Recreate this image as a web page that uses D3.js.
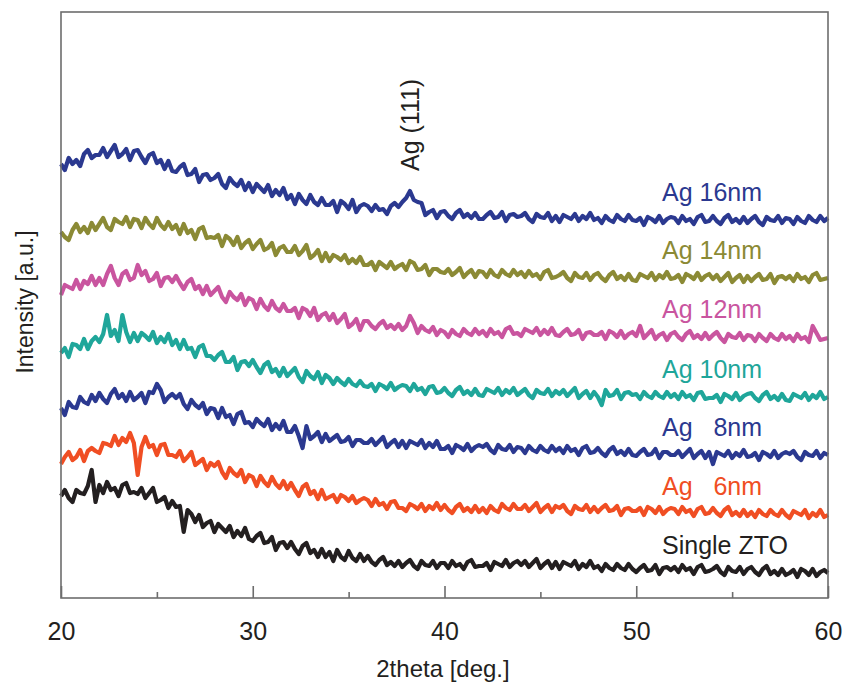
<!DOCTYPE html>
<html><head><meta charset="utf-8">
<script src="https://cdn.jsdelivr.net/npm/d3@7"></script>
<style>
body{margin:0;background:#fff;}
text{font-family:"Liberation Sans",Arial,sans-serif;}
</style></head>
<body><svg id="c" width="845" height="686"></svg>
<script>
// 2theta sampling grid (deg), 0.2 deg step
const twoTheta = d3.range(0, 201).map(i => 20 + i * 0.2);
const xTicks = [20, 30, 40, 50, 60];
const xMinorTicks = [25, 35, 45, 55];
const seriesNames = ["Ag 16nm", "Ag 14nm", "Ag 12nm", "Ag 10nm", "Ag   8nm", "Ag   6nm", "Single ZTO"];
const seriesColors = ["#2b3990", "#8b8a35", "#c9559f", "#1fa69a", "#2b3990", "#f04e23", "#231f20"];

// offset intensities [a.u.] (one row = 2 deg)
const ag16 = [
434,428,440,434,438,432,444,448,440,443,
443,450,441,447,453,441,444,449,438,447,
448,441,435,443,445,435,438,429,437,427,
426,431,434,423,424,429,416,423,424,418,
420,424,414,410,420,415,412,418,408,415,
406,414,410,406,413,402,408,403,410,399,
403,394,404,398,394,403,396,393,400,393,
393,397,386,397,394,389,398,386,392,394,
392,387,393,388,389,384,392,395,391,396,
400,407,398,396,395,383,386,388,380,386,
387,382,379,385,388,381,384,380,385,379,
379,383,386,380,381,386,377,383,384,381,
382,385,379,376,384,381,380,385,377,382,
376,383,381,379,384,377,382,379,385,378,
380,375,382,378,376,383,379,377,383,378,
377,380,373,381,379,376,382,375,379,381,
380,375,382,377,379,374,381,383,376,377,
382,377,374,380,383,376,379,375,381,375,
379,382,376,373,381,378,377,382,375,380,
379,374,381,377,375,382,378,376,382,377,
380];
const ag14 = [
366,361,358,368,374,366,371,365,375,368,
374,380,371,368,379,376,374,381,371,379,
378,370,380,374,370,380,373,369,376,369,
373,364,374,365,368,359,369,371,360,361,
360,363,352,362,359,353,361,350,355,358,
349,354,358,348,350,355,343,350,352,346,
346,352,343,347,353,340,343,348,337,345,
337,343,341,338,343,335,339,335,341,333,
333,336,328,336,333,330,336,329,332,334,
328,337,335,328,329,333,323,329,329,326,
325,329,323,326,330,321,325,328,321,327,
326,321,328,323,321,328,324,322,328,323,
326,321,327,322,324,319,326,328,320,321,
323,326,320,317,325,321,320,325,318,323,
325,320,317,323,326,319,322,318,324,318,
317,324,322,320,325,318,323,320,326,319,
320,323,316,324,322,319,325,318,322,324,
319,323,317,321,325,316,320,323,316,322,
317,321,324,318,319,324,315,321,322,319,
322,317,324,319,321,316,323,325,318,319,
320];
const ag12 = [
303,313,311,309,318,309,317,314,322,313,
320,313,324,332,320,313,324,327,318,320,
333,323,327,317,319,325,312,320,321,316,
322,315,309,316,319,309,312,304,312,303,
307,311,301,296,306,301,298,304,293,300,
298,289,299,292,288,297,290,287,294,287,
287,290,280,290,288,282,290,278,283,285,
278,284,275,279,284,271,274,279,268,277,
277,272,269,274,277,270,273,269,274,268,
272,282,275,265,272,268,266,271,263,268,
266,261,268,264,262,269,265,263,269,264,
267,262,269,264,266,261,269,271,264,265,
262,269,267,265,270,263,268,264,270,263,
262,266,269,263,264,268,259,265,266,263,
263,266,259,267,265,261,267,260,264,266,
262,272,260,264,268,259,263,265,258,264,
266,261,258,264,267,260,263,259,265,259,
263,266,260,256,264,261,260,265,258,263,
262,257,264,260,257,264,260,258,264,259,
262,257,264,259,261,256,272,265,258,259,
260];
const ag10 = [
245,250,241,254,253,249,259,249,257,261,
256,264,283,262,268,257,283,266,256,265,
257,265,262,258,266,255,261,256,264,253,
258,249,258,249,250,241,251,253,242,242,
238,243,246,236,236,241,228,236,237,232,
238,231,225,233,236,226,229,222,230,222,
226,230,221,216,227,222,219,226,215,223,
220,214,220,216,213,219,214,212,217,212,
211,214,207,214,212,209,215,208,211,213,
212,207,214,208,210,204,211,212,205,206,
210,205,202,208,211,204,207,203,209,203,
202,209,207,205,210,203,208,205,210,203,
206,209,203,200,208,205,204,209,202,207,
204,208,202,206,210,200,204,207,200,206,
201,193,208,202,203,208,199,205,206,203,
204,199,206,202,200,206,202,200,206,201,
204,199,206,201,203,198,205,206,199,200,
200,203,196,204,202,199,205,198,202,204,
205,200,197,203,206,199,202,198,204,198,
197,204,202,200,205,198,203,200,206,199,
201];
const ag8 = [
190,183,196,191,190,201,196,194,203,197,
205,199,195,204,209,200,204,197,206,198,
201,205,195,206,205,214,208,196,201,204,
200,204,194,189,198,193,190,195,184,190,
189,180,190,181,183,174,184,186,175,176,
171,179,175,172,179,168,174,169,177,166,
166,172,162,150,172,159,162,166,156,164,
157,160,163,156,157,161,152,158,158,155,
155,159,153,157,161,151,155,158,151,157,
150,157,155,153,158,150,155,151,157,149,
149,152,145,153,151,148,154,147,151,153,
151,154,148,145,153,149,148,153,146,151,
150,145,152,148,146,152,148,146,152,147,
150,145,152,147,149,143,150,152,145,146,
150,145,142,148,151,144,147,143,149,143,
142,146,149,143,144,149,140,146,146,143,
143,147,141,145,149,140,144,147,140,146,
134,146,144,142,147,140,145,142,148,141,
142,145,138,146,144,141,147,140,144,146,
144,147,141,138,146,143,142,147,140,145,
143];
const ag6 = [
134,141,146,138,141,148,137,147,150,147,
145,155,154,152,162,153,160,156,165,155,
123,151,161,151,153,143,153,154,143,143,
141,147,137,141,146,133,136,139,128,135,
132,136,126,120,130,125,122,128,116,123,
121,112,122,116,112,121,114,110,117,109,
115,108,102,111,114,104,107,99,108,99,
101,103,96,103,101,97,102,95,98,100,
98,92,99,93,95,89,96,97,90,90,
87,94,92,89,94,87,92,89,95,88,
93,88,85,91,94,87,90,86,92,86,
90,85,92,88,86,94,90,88,94,89,
89,93,87,91,95,86,90,93,86,92,
90,93,87,84,92,89,88,93,86,91,
86,90,93,87,88,92,83,89,90,87,
87,90,83,91,89,85,91,84,88,90,
89,84,91,86,88,82,89,91,84,85,
90,85,82,88,91,83,86,82,88,82,
86,81,88,84,82,88,84,82,88,83,
80,87,85,83,88,80,85,82,88,81,
83];
const zto = [
102,108,100,96,108,105,104,112,128,96,
113,105,116,108,110,102,113,115,105,106,
104,110,100,105,110,96,98,101,90,97,
91,92,66,88,84,76,83,71,75,77,
66,74,70,66,72,61,67,62,70,59,
57,62,65,55,56,61,48,55,56,50,
56,49,44,52,55,45,48,41,49,41,
46,37,48,41,38,47,40,37,44,37,
42,36,33,38,41,33,36,32,37,31,
35,38,32,29,37,33,32,37,30,35,
35,30,37,32,34,29,36,38,31,32,
32,35,28,36,34,32,38,31,35,37,
33,37,31,35,39,30,34,37,30,36,
29,36,34,32,37,29,34,31,37,30,
32,27,34,30,28,34,30,28,34,29,
26,30,33,27,28,33,24,30,31,28,
31,26,33,28,30,24,31,33,26,27,
29,32,26,23,31,27,26,31,24,29,
31,26,23,29,32,24,27,23,29,23,
25,28,21,29,27,23,29,22,26,28,
25];
const seriesValues = [ag16, ag14, ag12, ag10, ag8, ag6, zto];
const peakLabel = {text: "Ag (111)", x: 38.2, value: 407};

const svg = d3.select("#c");
const W = 845, H = 686;
const m = {left: 61, right: 17, top: 12, bottom: 88};
const x = d3.scaleLinear().domain([20, 60]).range([m.left, W - m.right]);
const y = d3.scaleLinear().domain([0, 586]).range([H - m.bottom, m.top]);
const frame = "#6d6d6d";

// series
const line = d3.line().x((d, i) => x(twoTheta[i])).y(d => y(d));
const g = svg.append("g");
seriesValues.forEach((vals, k) => {
  g.append("path").datum(vals).attr("d", line)
    .attr("fill", "none").attr("stroke", seriesColors[k])
    .attr("stroke-width", 4.2).attr("stroke-linejoin", "round").attr("stroke-linecap", "butt");
});

// frame
svg.append("rect").attr("x", x(20)).attr("y", y(586)).attr("width", x(60) - x(20)).attr("height", y(0) - y(586))
  .attr("fill", "none").attr("stroke", frame).attr("stroke-width", 1.6);

// bottom axis (inward ticks)
const ax = svg.append("g").attr("transform", `translate(0,${y(0)})`);
ax.call(d3.axisBottom(x).tickValues(xTicks).tickSize(-12).tickPadding(24).tickFormat(d3.format("d")));
ax.append("g").call(d3.axisBottom(x).tickValues(xMinorTicks).tickSize(-6).tickFormat(""));
ax.selectAll(".domain").remove();
ax.selectAll("line").attr("stroke", frame).attr("stroke-width", 1.6);
ax.selectAll("text").attr("font-size", 25).attr("fill", "#231f20").attr("font-family", "Liberation Sans, Arial, sans-serif");

// axis titles
svg.append("text").attr("x", 443).attr("y", 677).attr("text-anchor", "middle")
  .attr("font-size", 24).attr("fill", "#231f20").text("2theta [deg.]");
svg.append("text").attr("transform", "translate(33,302) rotate(-90)").attr("text-anchor", "middle")
  .attr("font-size", 23).attr("fill", "#231f20").text("Intensity [a.u.]");

// series labels
seriesValues.forEach((vals, k) => {
  const endV = d3.mean(vals.slice(-12));
  svg.append("text").attr("x", 662).attr("y", y(endV) - 19)
    .attr("font-size", 25).attr("fill", seriesColors[k])
    .style("white-space", "pre").text(seriesNames[k]);
});

// peak annotation
svg.append("text").attr("transform", `translate(${x(peakLabel.x) + 9},${y(peakLabel.value) - 20}) rotate(-90)`)
  .attr("font-size", 25).attr("fill", "#231f20").text(peakLabel.text);
</script></body></html>
